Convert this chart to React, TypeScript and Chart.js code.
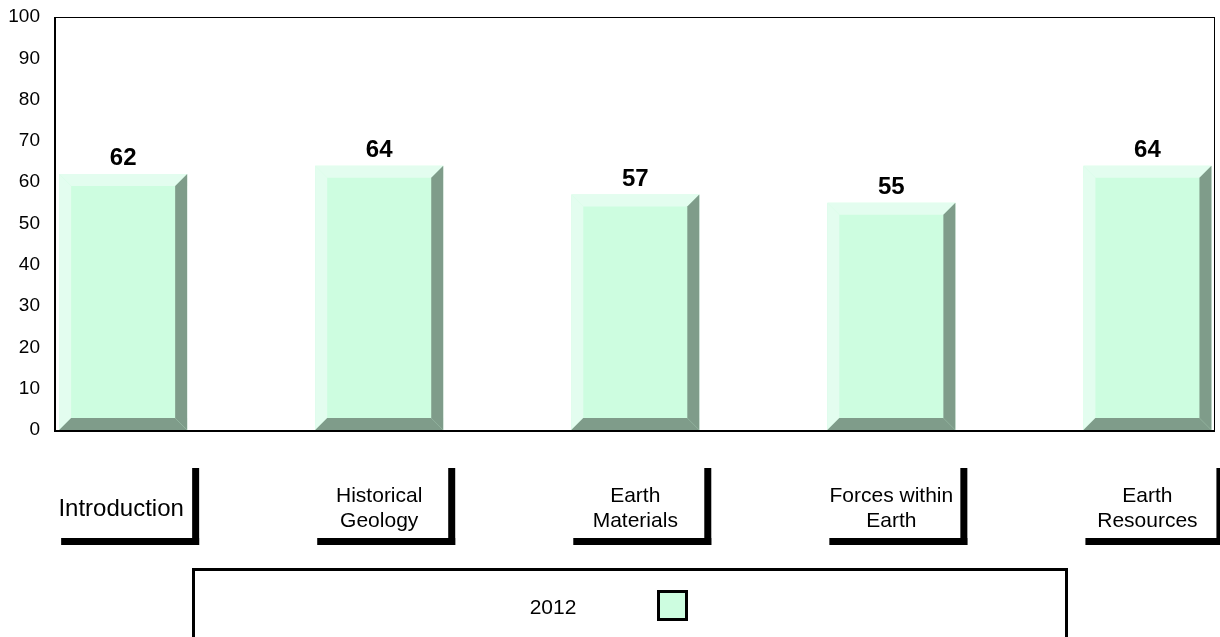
import React, { useEffect, useRef } from 'react';
import { Chart, registerables } from 'chart.js';

Chart.register(...registerables);

// ---- data ----
const categories: string[][] = [
  ['Introduction'],
  ['Historical', 'Geology'],
  ['Earth', 'Materials'],
  ['Forces within', 'Earth'],
  ['Earth', 'Resources'],
];
const values2012: number[] = [62, 64, 57, 55, 64];
const seriesLabel = '2012';
const yMin = 0;
const yMax = 100;
const yStep = 10;

// ---- styles ----
const FACE = '#cdfde0';
const LIGHT = '#e3fdef';
const DARK = '#7f9c8a';
const FONT = '"Liberation Sans", Arial, Helvetica, sans-serif';

const W = 1220;
const H = 637;

const bevelPlugin = {
  id: 'bevelBars',
  afterDatasetsDraw(chart: any) {
    const ctx = chart.ctx as CanvasRenderingContext2D;
    const meta = chart.getDatasetMeta(0);
    const b = 12;
    ctx.save();
    meta.data.forEach((el: any) => {
      const { x, y, base, width } = el.getProps(['x', 'y', 'base', 'width'], true);
      const L = x - width / 2;
      const R = x + width / 2;
      const T = Math.min(y, base);
      const B = Math.max(y, base);
      const poly = (pts: number[][], color: string) => {
        ctx.beginPath();
        ctx.moveTo(pts[0][0], pts[0][1]);
        for (let i = 1; i < pts.length; i++) ctx.lineTo(pts[i][0], pts[i][1]);
        ctx.closePath();
        ctx.fillStyle = color;
        ctx.fill();
      };
      poly([[L, T], [R, T], [R - b, T + b], [L + b, T + b]], LIGHT);
      poly([[L, T], [L + b, T + b], [L + b, B - b], [L, B]], LIGHT);
      poly([[R, T], [R, B], [R - b, B - b], [R - b, T + b]], DARK);
      poly([[L, B], [R, B], [R - b, B - b], [L + b, B - b]], DARK);
    });
    ctx.restore();
  },
};

const framePlugin = {
  id: 'frame',
  afterDatasetsDraw(chart: any) {
    const ctx = chart.ctx as CanvasRenderingContext2D;
    const { left, right, top, bottom } = chart.chartArea;
    ctx.save();
    ctx.strokeStyle = '#000';
    ctx.lineWidth = 1;
    ctx.beginPath();
    ctx.moveTo(left, top + 0.5);
    ctx.lineTo(right, top + 0.5);
    ctx.moveTo(right + 0.5, top);
    ctx.lineTo(right + 0.5, bottom);
    ctx.stroke();
    ctx.lineWidth = 2;
    ctx.beginPath();
    ctx.moveTo(left + 1, top);
    ctx.lineTo(left + 1, bottom + 1);
    ctx.moveTo(left, bottom + 1);
    ctx.lineTo(right + 1, bottom + 1);
    ctx.stroke();
    ctx.restore();
  },
};

const labelsPlugin = {
  id: 'labels',
  afterDraw(chart: any) {
    const ctx = chart.ctx as CanvasRenderingContext2D;
    const meta = chart.getDatasetMeta(0);
    ctx.save();
    ctx.fillStyle = '#000';
    meta.data.forEach((el: any, i: number) => {
      const { x, y } = el.getProps(['x', 'y'], true);
      ctx.font = `bold 24px ${FONT}`;
      ctx.textAlign = 'center';
      ctx.textBaseline = 'alphabetic';
      ctx.fillText(String(values2012[i]), x, y - 9);

      const lines = categories[i];
      if (lines.length === 1) {
        ctx.font = `24px ${FONT}`;
        ctx.fillText(lines[0], x - 2, 516);
      } else {
        ctx.font = `21px ${FONT}`;
        lines.forEach((ln, k) => ctx.fillText(ln, x, 502 + k * 25));
      }
      const sl = x - 62;
      const sr = x + 76;
      ctx.fillRect(sl, 538, sr - sl, 7);
      ctx.fillRect(sr - 7, 468, 7, 77);
    });

    // legend
    ctx.lineWidth = 3;
    ctx.strokeStyle = '#000';
    ctx.strokeRect(193.5, 569.5, 873, 120);
    ctx.font = `21px ${FONT}`;
    ctx.textAlign = 'center';
    ctx.fillStyle = '#000';
    ctx.fillText(chart.data.datasets[0].label, 553, 614);
    ctx.fillStyle = FACE;
    ctx.fillRect(658.5, 591.5, 28, 28);
    ctx.strokeRect(658.5, 591.5, 28, 28);
    ctx.restore();
  },
};

export default function App() {
  const ref = useRef<HTMLCanvasElement | null>(null);

  useEffect(() => {
    if (!ref.current) return;
    const chart = new Chart(ref.current, {
      type: 'bar',
      data: {
        datasets: [
          {
            label: seriesLabel,
            data: values2012.map((v, i) => ({ x: i, y: v })),
            backgroundColor: FACE,
            borderWidth: 0,
            categoryPercentage: 1,
            barPercentage: 0.5,
          } as any,
        ],
      },
      options: {
        animation: false,
        responsive: false,
        maintainAspectRatio: false,
        layout: { padding: { left: 0, top: 17, right: 6, bottom: 207 } },
        plugins: {
          legend: { display: false },
          tooltip: { enabled: false },
        },
        scales: {
          x: {
            type: 'linear',
            min: -0.27,
            max: 4.26,
            display: false,
            offset: false,
            afterBuildTicks: (s: any) => {
              s.ticks = values2012.map((_, i) => ({ value: i }));
            },
          },
          y: {
            min: yMin,
            max: yMax,
            ticks: {
              stepSize: yStep,
              padding: 0,
              color: '#000',
              font: { family: FONT, size: 19 },
            },
            grid: { display: false, drawTicks: true, tickLength: 14 },
            border: { display: false },
            afterFit: (s: any) => {
              s.width = 54;
            },
          },
        },
      } as any,
      plugins: [bevelPlugin, framePlugin, labelsPlugin],
    });
    return () => chart.destroy();
  }, []);

  return (
    <div style={{ position: 'absolute', left: 0, top: 0, width: W, height: H, background: '#fff' }}>
      <canvas ref={ref} width={W} height={H} style={{ display: 'block', width: W, height: H }} />
    </div>
  );
}
